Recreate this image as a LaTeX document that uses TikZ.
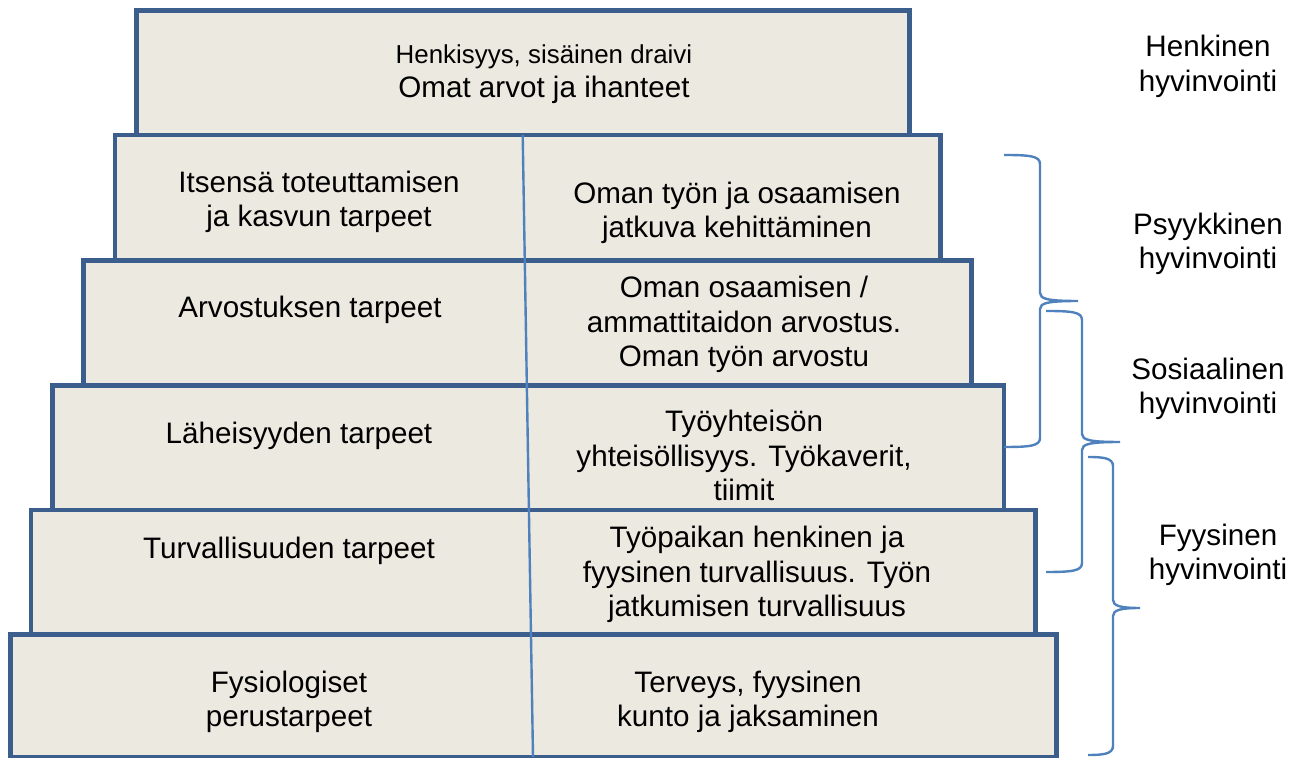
\documentclass[tikz,border=0pt]{standalone}
\usepackage{fontspec}
\setmainfont{Liberation Sans}
\definecolor{boxfill}{RGB}{236,233,224}
\definecolor{boxedge}{RGB}{59,94,140}
\definecolor{linkblue}{RGB}{79,129,189}
% brace: #1 end x, #2 spine x, #3 tip x, #4 top y, #5 tip y, #6 bottom y
\newcommand\sidebrace[6]{%
  \draw[bracestyle] (#1,#4) .. controls ({#2-10},#4) and (#2,{#4+1}) .. (#2,{#4+9})
    -- (#2,{#5-8}) .. controls (#2,{#5-2}) and ({#2+8},#5) .. (#3,#5)
    .. controls ({#2+8},#5) and (#2,{#5+2}) .. (#2,{#5+8})
    -- (#2,{#6-9}) .. controls (#2,{#6-1}) and ({#2-10},#6) .. (#1,#6);}
\begin{document}
\begin{tikzpicture}[x=0.5pt,y=-0.5pt,
  level/.style={draw=boxedge,fill=boxfill,line width=2.4pt},
  divider/.style={draw=linkblue,line width=1.2pt},
  bracestyle/.style={draw=linkblue,line width=1.2pt},
  lbl/.style={font=\fontsize{14.8pt}{17.2pt}\selectfont,align=center,inner sep=0pt,
    execute at begin node=\strut,execute at end node=\strut},
  side/.style={lbl}]
\useasboundingbox (0,0) rectangle (1303,758);
% pyramid levels, from the top down
\path[level] (136.5,10.5) rectangle (909.5,135);
\path[level] (115,135) rectangle (940.5,260.5);
\path[level] (83.5,260.5) rectangle (971.5,385.5);
\path[level] (52.5,385.5) rectangle (1004,510);
\path[level] (31,510) rectangle (1035.5,634.5);
\path[level] (10.5,634.5) rectangle (1056.5,757);
% column divider
\coordinate (divtop) at (522.7,135);
\coordinate (divbot) at (533,757);
\draw[divider] (divtop) -- (divbot);
% top level
\node[lbl] (top) at (544,76) {{\fontsize{12.95pt}{15pt}\selectfont Henkisyys, sisäinen draivi}\\Omat arvot ja ihanteet};
% left column
\node[lbl] (needA) at (319,204) {Itsensä toteuttamisen\\ja kasvun tarpeet};
\node[lbl] (needB) at (310,310.5) {Arvostuksen tarpeet};
\node[lbl] (needC) at (299,436.5) {Läheisyyden tarpeet};
\node[lbl] (needD) at (289,551.5) {Turvallisuuden tarpeet};
\node[lbl] (needE) at (289,704) {Fysiologiset\\perustarpeet};
% right column
\node[lbl] (workA) at (737,215) {Oman työn ja osaamisen\\jatkuva kehittäminen};
\node[lbl] (workB) at (744,326.5) {Oman osaamisen /\\ammattitaidon arvostus.\\Oman työn arvostu};
\node[lbl] (workC) at (744,460.5) {Työyhteisön\\yhteisöllisyys. Työkaverit,\\tiimit};
\node[lbl] (workD) at (757,576.5) {Työpaikan henkinen ja\\fyysinen turvallisuus. Työn\\jatkumisen turvallisuus};
\node[lbl] (workE) at (748,704) {Terveys, fyysinen\\kunto ja jaksaminen};
% wellbeing groups
\sidebrace{1004}{1040}{1078}{155}{301}{447}
\sidebrace{1046}{1082}{1120}{311}{442}{572}
\sidebrace{1088}{1113}{1140}{457}{608}{755}
\node[side] (henk) at (1208,68.5) {Henkinen\\hyvinvointi};
\node[side] (psyk) at (1208,246) {Psyykkinen\\hyvinvointi};
\node[side] (sos) at (1208,391) {Sosiaalinen\\hyvinvointi};
\node[side] (fyys) at (1218,557) {Fyysinen\\hyvinvointi};
\end{tikzpicture}
\end{document}
